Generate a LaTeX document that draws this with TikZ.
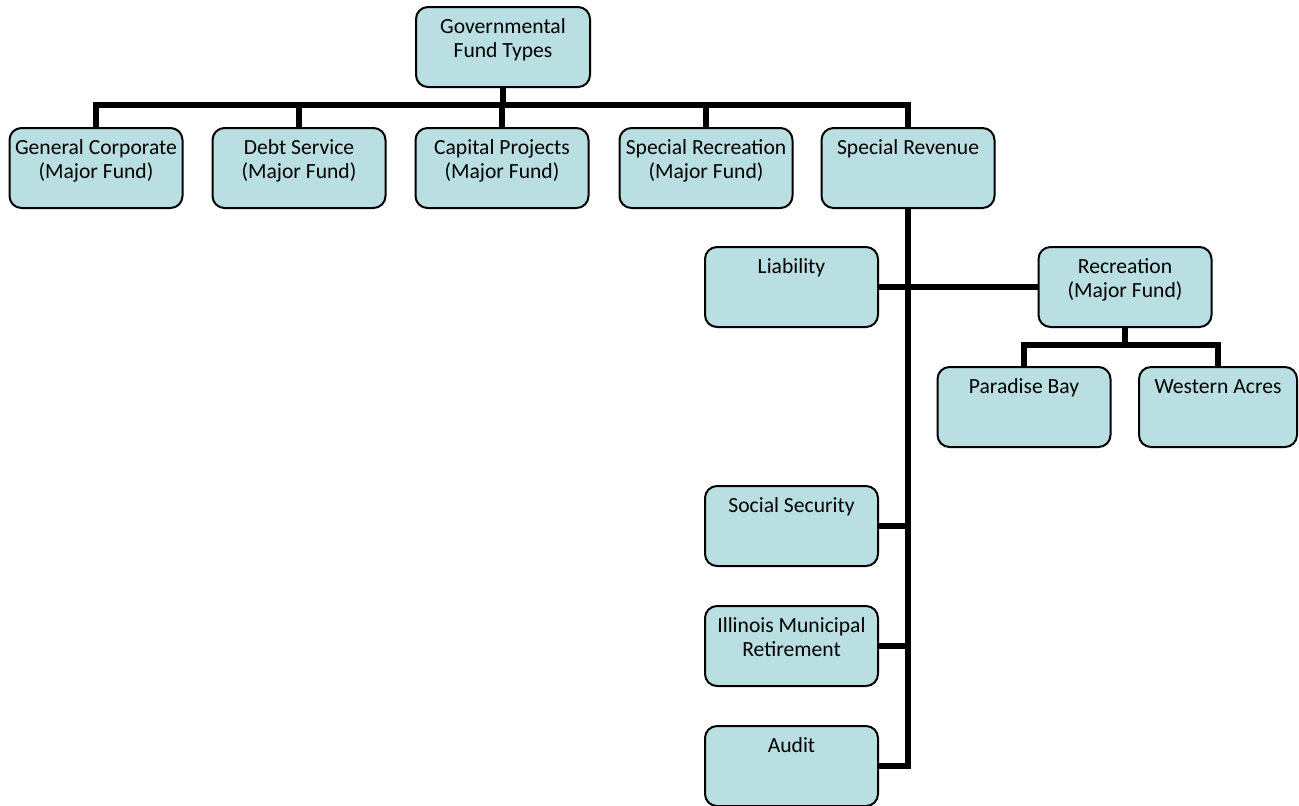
\documentclass[tikz,border=0pt]{standalone}
\usepackage{fontspec}
\setmainfont{Carlito}
\usepackage{tikz}
\definecolor{fundblue}{RGB}{185,223,227}
\tikzstyle{fund} = [rectangle, rounded corners=6pt, draw=black, line width=1pt, fill=fundblue, anchor=north, minimum width=86.5pt, align=center, font=\fontsize{10.8pt}{12pt}\selectfont, inner xsep=2pt, inner ysep=6pt, text height=7pt, text depth=21pt]
\tikzstyle{fundtwo} = [fund, text height=19pt, text depth=9pt]
\tikzstyle{link} = [line width=3pt]

\begin{document}
\begin{tikzpicture}[x=0.5pt,y=-0.5pt]
\useasboundingbox (0,0) rectangle (1299,805);

\node (gov) [fundtwo, minimum width=87pt] at (503,6) {Governmental\\Fund Types};

\node (gen) [fundtwo] at (96,127) {General Corporate\\(Major Fund)};
\node (debt) [fundtwo] at (299,127) {Debt Service\\(Major Fund)};
\node (cap) [fundtwo] at (502,127) {Capital Projects\\(Major Fund)};
\node (spr) [fundtwo] at (706,127) {Special Recreation\\(Major Fund)};
\node (rev) [fund] at (908,127) {Special Revenue};

\node (lia) [fund] at (791.5,246) {Liability};
\node (rec) [fundtwo] at (1125,246) {Recreation\\(Major Fund)};
\node (pb) [fund] at (1024,366) {Paradise Bay};
\node (wa) [fund, minimum width=79pt] at (1218,366) {Western Acres};

\node (soc) [fund] at (791.5,485) {Social Security};
\node (imr) [fundtwo] at (791.5,605) {Illinois Municipal\\Retirement};
\node (aud) [fund] at (791.5,725) {Audit};

\coordinate (bar) at (503,105);
\coordinate (rbar) at (1125,345);

\draw[link] (gov.south) -- (bar);
\foreach \n in {gen,debt,cap,spr,rev}
    \draw[link] (bar) -| (\n.north);

\draw[link] (rev.south) |- (aud.east);
\draw[link] (lia.east) -- (rec.west);
\draw[link] (soc.east) -- (soc.east -| rev.south);
\draw[link] (imr.east) -- (imr.east -| rev.south);

\draw[link] (rec.south) -- (rbar);
\draw[link] (rbar) -| (pb.north);
\draw[link] (rbar) -| (wa.north);

\end{tikzpicture}
\end{document}
